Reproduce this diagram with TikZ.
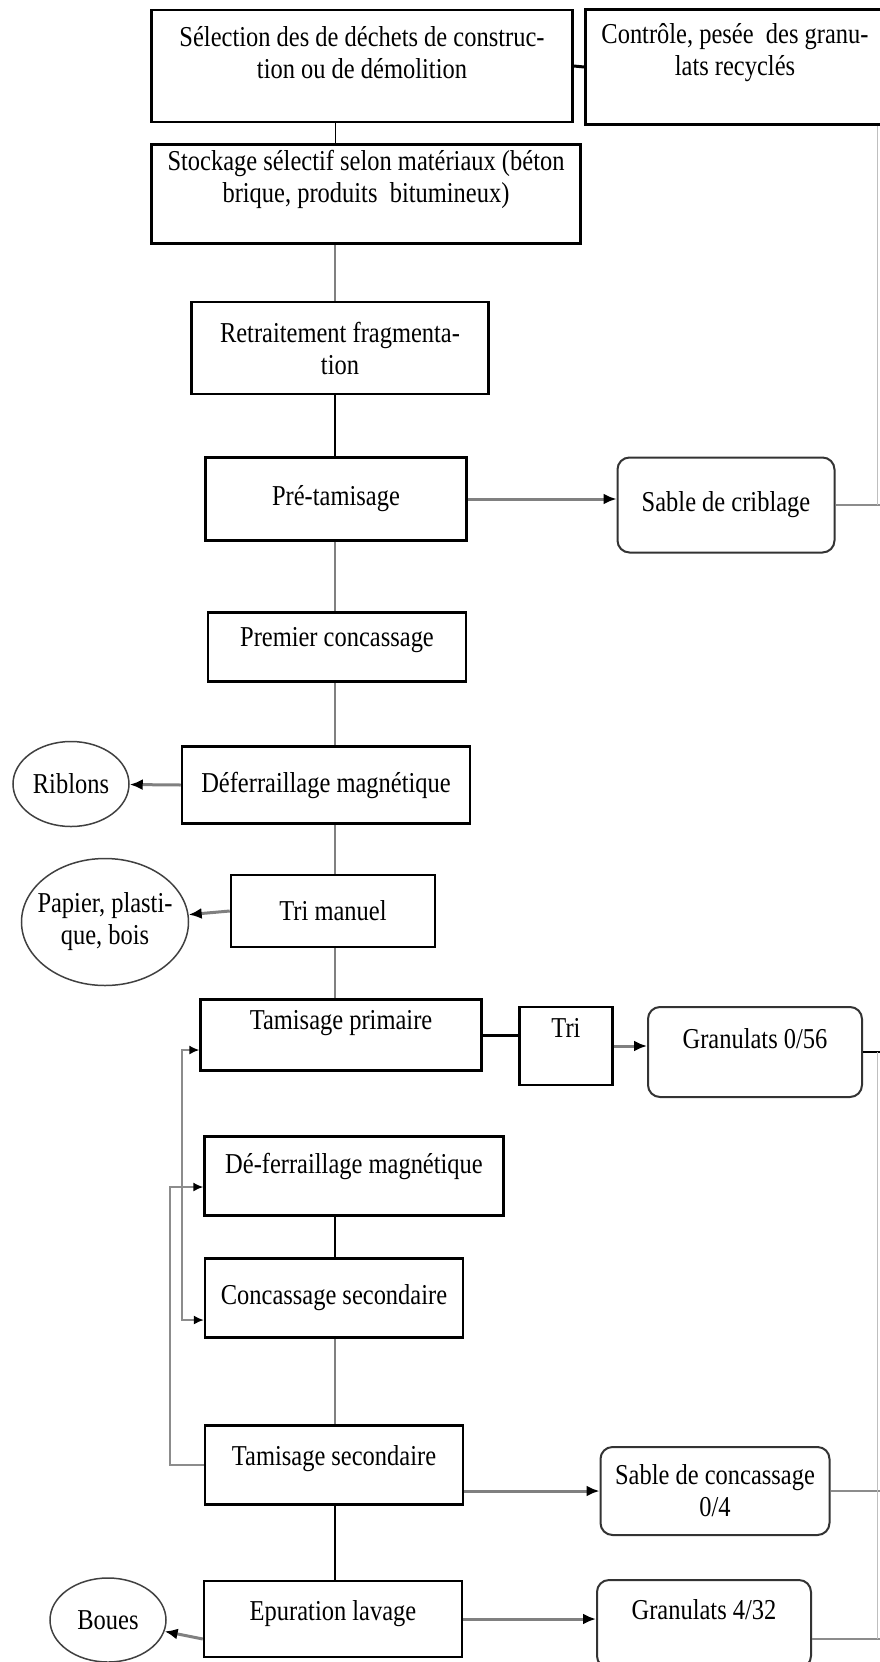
\documentclass[tikz,border=0pt]{standalone}
\usepackage{fontspec}
\setmainfont{Liberation Serif}[FakeStretch=0.85]
\usetikzlibrary{shapes.geometric,arrows.meta}
\newcommand{\upby}[1]{\\[#1]\mbox{}}

\begin{document}
\begin{tikzpicture}[x=1pt,y=-1pt,
	font=\fontsize{28.8}{32}\selectfont,
	box/.style={draw=black, line width=2.5pt, align=center, inner sep=0pt},
	rbox/.style={draw=black!80, line width=2pt, rounded corners=12pt, align=center, inner sep=0pt},
	waste/.style={ellipse, draw=black!75, line width=1.5pt, align=center, inner sep=0pt},
	spine/.style={black!50, line width=2pt},
	flow/.style={black!50, line width=3pt, -{Latex[color=black,length=13pt,width=11pt]}},
	back/.style={black!45, line width=1.5pt},
	fb/.style={back, -{Latex[color=black,length=10pt,width=9pt]}},
	fbboth/.style={back, {Latex[color=black,length=10pt,width=9pt]}-{Latex[color=black,length=10pt,width=9pt]}}]
	\useasboundingbox (0,0) rectangle (880,1662);
	\clip (0,0) rectangle (880,1662);

	% main column
	\node[box, minimum width=421pt, minimum height=112pt] (sel) at (362,66) {Sélection des de déchets de construc-\\tion ou de démolition\upby{-4pt}};
	\node[box, minimum width=299pt, minimum height=115pt] (ctrl) at (735,67) {Contrôle, pesée\ \ des granu-\\lats recyclés\upby{3pt}};
	\node[box, minimum width=429pt, minimum height=99pt] (stock) at (366,194) {Stockage sélectif selon matériaux (béton\\brique, produits\ \ bitumineux)\upby{3pt}};
	\node[box, minimum width=297pt, minimum height=92pt] (ret) at (340,348) {Retraitement fragmenta-\\tion};
	\node[box, minimum width=261pt, minimum height=83pt] (ptam) at (336,499) {Pré-tamisage};
	\node[rbox, minimum width=217pt, minimum height=95pt] (scrib) at (726,505) {Sable de criblage};
	\node[box, minimum width=258pt, minimum height=69pt] (prem) at (337,647) {Premier concassage\upby{-12pt}};
	\node[box, minimum width=288pt, minimum height=77pt] (def) at (326,785) {Déferraillage magnétique};
	\node[waste, minimum width=116pt, minimum height=85pt] (rib) at (71,784) {Riblons};
	\node[box, minimum width=204pt, minimum height=72pt] (trim) at (333,911) {Tri manuel};
	\node[waste, inner xsep=-9pt, minimum width=167pt, minimum height=127pt] (pap) at (105,922) {Papier, plasti-\\que, bois};
	\node[box, minimum width=281pt, minimum height=71pt] (tp) at (341,1035) {Tamisage primaire\upby{-2pt}};
	\node[box, minimum width=93pt, minimum height=78pt] (tri) at (566,1046) {Tri\upby{4pt}};
	\node[rbox, minimum width=214pt, minimum height=90pt] (g056) at (755,1052) {Granulats 0/56\upby{-4pt}};
	\node[box, minimum width=299pt, minimum height=79pt] (def2) at (354,1176) {Dé-ferraillage magnétique\upby{-6pt}};
	\node[box, minimum width=258pt, minimum height=79pt] (conc) at (334,1298) {Concassage secondaire};
	\node[box, minimum width=258pt, minimum height=79pt] (tsec) at (334,1465) {Tamisage secondaire\upby{-12pt}};
	\node[rbox, minimum width=229pt, minimum height=88pt] (scon) at (715,1491) {Sable de concassage\\0/4};
	\node[box, minimum width=258pt, minimum height=76pt] (epu) at (333,1619) {Epuration lavage\upby{-14pt}};
	\node[rbox, minimum width=214pt, minimum height=88pt] (g432) at (704,1624) {Granulats 4/32\upby{-2pt}};
	\node[waste, minimum width=116pt, minimum height=84pt] (boues) at (108,1620) {Boues};

	% vertical links
	\coordinate (axis) at (335,0);
	\draw[black, line width=1pt] (sel.south -| axis) -- (stock.north -| axis);
	\draw[spine] (stock.south -| axis) -- (ret.north -| axis);
	\draw[black, line width=2pt] (ret.south -| axis) -- (ptam.north -| axis);
	\draw[spine] (ptam.south -| axis) -- (prem.north -| axis);
	\draw[spine] (prem.south -| axis) -- (def.north -| axis);
	\draw[spine] (def.south -| axis) -- (trim.north -| axis);
	\draw[spine] (trim.south -| axis) -- (tp.north -| axis);
	\draw[black, line width=1.5pt] (def2.south -| axis) -- (conc.north -| axis);
	\draw[spine] (conc.south -| axis) -- (tsec.north -| axis);
	\draw[black, line width=2pt] (tsec.south -| axis) -- (epu.north -| axis);

	% side links
	\draw[black, line width=3pt] (sel.east) -- (ctrl.west);
	\draw[flow] (ptam.east) -- (ptam.east -| scrib.west);
	\draw[flow] (def.west) -- (rib);
	\draw[flow] (trim.west) -- (pap);
	\draw[black, line width=3pt] (tp.east) -- (tp.east -| tri.west);
	\draw[flow] (tri.east) -- (tri.east -| g056.west);
	\draw[flow] (tsec.east |- scon.west) -- (scon.west);
	\draw[flow] (epu.east) -- (epu.east -| g432.west);
	\coordinate (outboues) at ([yshift=-20pt]epu.west);
	\draw[flow] (outboues) -- (boues);

	% recycling loops
	\coordinate (inner) at (182,0);
	\coordinate (outer) at (170,0);
	\coordinate (intp) at ([yshift=-15pt]tp.west);
	\coordinate (inconc) at ([yshift=-22pt]conc.west);
	\coordinate (indef) at ([yshift=-11pt]def2.west);
	\draw[fbboth] (intp) -| (inconc -| inner) -- (inconc);
	\draw[fb] (tsec.west) -| (indef -| outer) -- (indef);

	% products back to control
	\coordinate (rim) at (877,0);
	\coordinate (edge) at (884,0);
	\coordinate (g432out) at ([yshift=-15pt]g432.east);
	\draw[back] (scrib.east) -- (scrib.east -| edge);
	\draw[black, line width=1.5pt] (g056.east) -- (g056.east -| edge);
	\draw[back] (scon.east) -- (scon.east -| edge);
	\draw[back] (g432out) -- (g432out -| edge);
	\draw[black!25, line width=1pt] (ctrl.south -| rim) -- (scrib.east -| rim);
	\draw[black!25, line width=1pt] (g056.east -| rim) -- (g432out -| rim);
\end{tikzpicture}
\end{document}
